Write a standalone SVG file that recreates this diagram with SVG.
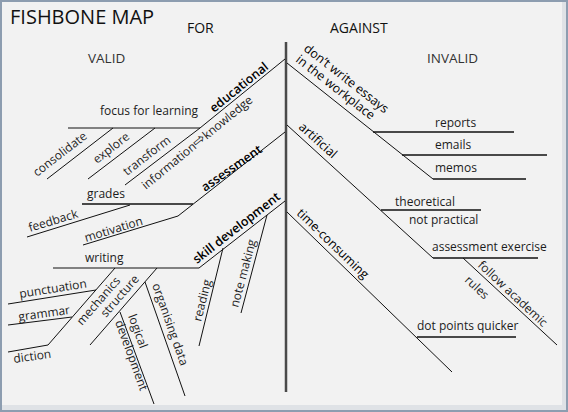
<svg xmlns="http://www.w3.org/2000/svg" width="568" height="412" viewBox="0 0 568 412">
<style>
text{font-family:"Open Sans","Noto Sans","DejaVu Sans",sans-serif;font-size:12px;fill:#1c1c1c}
.h{font-size:14px;fill:#111}
.v{font-size:13.5px;fill:#333}
.m{font-size:12.5px;fill:#000;font-weight:600}
.r{font-size:12.5px;fill:#000}
.ar{font-family:"DejaVu Sans",sans-serif;font-size:15px}
.ln line,.ln polyline{stroke:#111;stroke-width:1;fill:none}
.ln .hz{stroke-width:1.3}
</style>
<rect x="0" y="0" width="568" height="412" fill="#8d9db0"/>
<rect x="2" y="2" width="564" height="408" fill="#dfe2e6"/>
<rect x="2" y="2" width="560" height="403" fill="#f2f2f2"/>
<g id="connectors" class="ln">
<line x1="286" y1="42" x2="286" y2="392" stroke="#4a4a4a" style="stroke:#4a4a4a;stroke-width:2.5"/>
<polyline points="285,59 200,128 68,128"/>
<line x1="47" y1="179" x2="113" y2="128"/>
<line x1="88" y1="179" x2="155" y2="128"/>
<line x1="125" y1="185" x2="200" y2="128"/>
<polyline points="285,132 178,216 83,245"/>
<line x1="82" y1="204" x2="193" y2="204" class="hz"/>
<line x1="27" y1="237" x2="130" y2="205"/>
<polyline points="285,201 199,268 53,268"/>
<line x1="115" y1="268" x2="48" y2="345"/>
<line x1="8" y1="304" x2="96" y2="290"/>
<line x1="8" y1="325" x2="72" y2="317"/>
<line x1="8" y1="352" x2="48" y2="345"/>
<line x1="157" y1="268" x2="90" y2="345"/>
<line x1="145" y1="282" x2="185" y2="396"/>
<line x1="120" y1="312" x2="154" y2="404"/>
<line x1="223" y1="248" x2="199" y2="346"/>
<line x1="267" y1="215" x2="241" y2="313"/>
<line x1="287" y1="63" x2="433" y2="179"/>
<line x1="373" y1="132" x2="514" y2="132" class="hz"/>
<line x1="402" y1="155" x2="547" y2="155" class="hz"/>
<line x1="433" y1="179" x2="526" y2="179" class="hz"/>
<line x1="287" y1="125" x2="433" y2="258"/>
<line x1="381" y1="210" x2="481" y2="210" class="hz"/>
<line x1="433" y1="258" x2="538" y2="258" class="hz"/>
<line x1="463" y1="258" x2="557" y2="345"/>
<line x1="287" y1="212" x2="452" y2="372"/>
<line x1="417" y1="337" x2="516" y2="337" class="hz"/>
</g>
<g id="titles">
<text x="10" y="24" style="font-size:20px;fill:#111">FISHBONE MAP</text>
<text x="187" y="33" class="h">FOR</text>
<text x="330" y="33" class="h">AGAINST</text>
<text x="88" y="63" class="v">VALID</text>
<text x="427" y="63" class="v">INVALID</text>
</g>
<g id="educational">
<text class="m" transform="translate(214,113) rotate(-39)">educational</text>
<text x="100" y="115" font-size="12.5">focus for learning</text>
<text transform="translate(37,177) rotate(-37.7)">consolidate</text>
<text transform="translate(97,164) rotate(-37.7)">explore</text>
<text transform="translate(127,176) rotate(-37.7)">transform</text>
<text transform="translate(146,190) rotate(-39.5)">information<tspan class="ar">⇨</tspan>knowledge</text>
</g>
<g id="assessment">
<text class="m" transform="translate(205,192) rotate(-35)">assessment</text>
<text x="87" y="198">grades</text>
<text transform="translate(30,232) rotate(-17)">feedback</text>
<text transform="translate(86,242) rotate(-17)">motivation</text>
</g>
<g id="skill">
<text class="m" transform="translate(197,264) rotate(-38)">skill development</text>
<text x="85" y="262">writing</text>
<text transform="translate(20,298) rotate(-9)">punctuation</text>
<text transform="translate(19,321) rotate(-8)">grammar</text>
<text transform="translate(14,363) rotate(-8)">diction</text>
<text transform="translate(82,326) rotate(-49)">mechanics</text>
<text transform="translate(106,318) rotate(-49)">structure</text>
<text transform="translate(152,285) rotate(70.5)">organising data</text>
<text transform="translate(128,316) rotate(70)">logical</text>
<text transform="translate(115,322) rotate(70)">development</text>
<text transform="translate(201,322) rotate(-76)">reading</text>
<text transform="translate(238,308) rotate(-75)">note making</text>
</g>
<g id="workplace">
<text class="r" transform="translate(303,50) rotate(38)">don’t write essays</text>
<text class="r" transform="translate(295,61) rotate(38)">in the workplace</text>
<text x="435" y="127">reports</text>
<text x="435" y="149">emails</text>
<text x="435" y="172">memos</text>
</g>
<g id="artificial">
<text class="r" transform="translate(298,128) rotate(42)">artificial</text>
<text x="395" y="206">theoretical</text>
<text x="409" y="224">not practical</text>
<text x="432" y="251">assessment exercise</text>
<text transform="translate(477,266) rotate(43)">follow academic</text>
<text transform="translate(464,281) rotate(43)">rules</text>
</g>
<g id="time">
<text class="r" transform="translate(296,214) rotate(44)">time-consuming</text>
<text x="417" y="330">dot points quicker</text>
</g>
</svg>
